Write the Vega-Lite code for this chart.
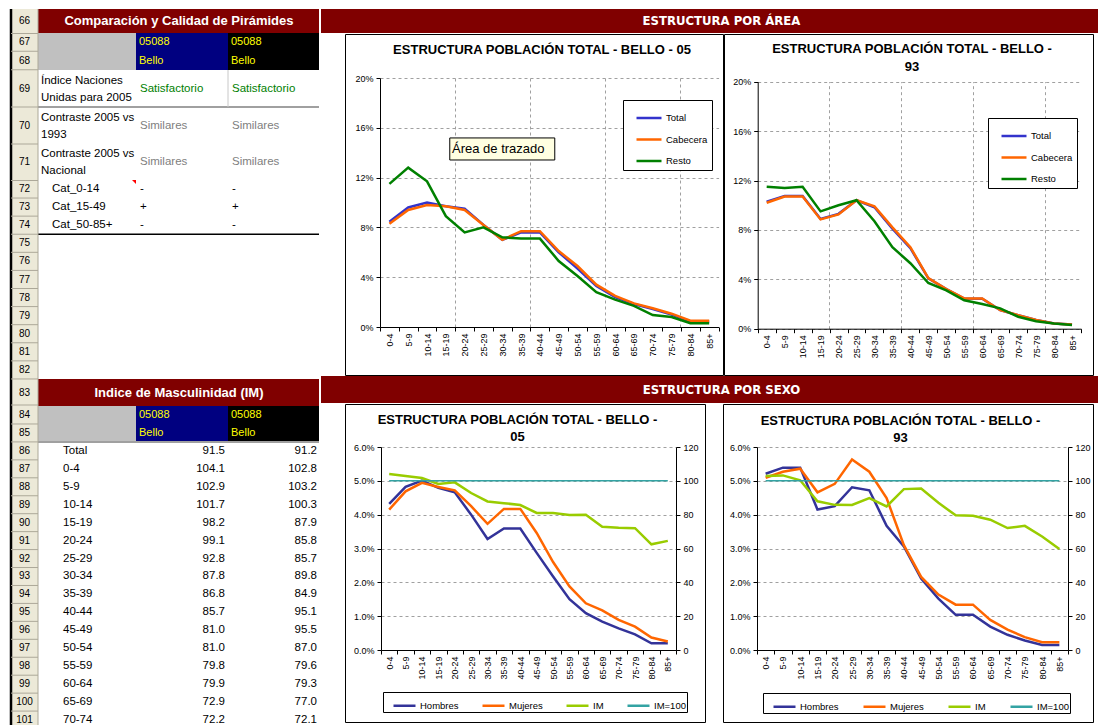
{
"$schema":"https://vega.github.io/schema/vega-lite/v6.json",
"padding":{"left":0,"right":0,"top":7,"bottom":0},
"background":"white",
"config":{"view":{"stroke":null},"font":"Liberation Sans",
 "axis":{"labelFont":"Liberation Sans","labelFontSize":9,"labelColor":"black","domainColor":"black","tickColor":"black","tickSize":4,"gridColor":"#A0A0A0","gridDash":[3,3],"labelPadding":2},
 "legend":{"labelFont":"Liberation Sans","labelColor":"black","labelFontSize":9.5},
 "title":{"font":"Liberation Sans","fontSize":13,"fontWeight":"bold","color":"black","anchor":"middle","frame":"group","baseline":"alphabetic"}},
"datasets":{
 "one":[{}],
 "tip":[{"t":"Área de trazado"}],
 "rows":[{"n":66},{"n":67},{"n":68},{"n":69},{"n":70},{"n":71},{"n":72},{"n":73},{"n":74},{"n":75},{"n":76},{"n":77},{"n":78},{"n":79},{"n":80},{"n":81},{"n":82},{"n":83},{"n":84},{"n":85},{"n":86},{"n":87},{"n":88},{"n":89},{"n":90},{"n":91},{"n":92},{"n":93},{"n":94},{"n":95},{"n":96},{"n":97},{"n":98},{"n":99},{"n":100},{"n":101}],
 "sections":[{"n":66,"t":"Comparación y Calidad de Pirámides"},{"n":83,"t":"Indice de Masculinidad (IM)"}],
 "hdr":[{"n":67,"c1":"05088","c2":"05088"},{"n":68,"c1":"Bello","c2":"Bello"},{"n":84,"c1":"05088","c2":"05088"},{"n":85,"c1":"Bello","c2":"Bello"}],
 "tbl1":[{"n":69,"label":"Índice Naciones\nUnidas para 2005","c1":"Satisfactorio","c2":"Satisfactorio"},{"n":70,"label":"Contraste 2005 vs\n1993","c1":"Similares","c2":"Similares"},{"n":71,"label":"Contraste 2005 vs\nNacional","c1":"Similares","c2":"Similares"},{"n":72,"label":"Cat_0-14","c1":"-","c2":"-"},{"n":73,"label":"Cat_15-49","c1":"+","c2":"+"},{"n":74,"label":"Cat_50-85+","c1":"-","c2":"-"}],
 "masc":[{"n":86,"label":"Total","c1":91.5,"c2":91.2},{"n":87,"label":"0-4","c1":104.1,"c2":102.8},{"n":88,"label":"5-9","c1":102.9,"c2":103.2},{"n":89,"label":"10-14","c1":101.7,"c2":100.3},{"n":90,"label":"15-19","c1":98.2,"c2":87.9},{"n":91,"label":"20-24","c1":99.1,"c2":85.8},{"n":92,"label":"25-29","c1":92.8,"c2":85.7},{"n":93,"label":"30-34","c1":87.8,"c2":89.8},{"n":94,"label":"35-39","c1":86.8,"c2":84.9},{"n":95,"label":"40-44","c1":85.7,"c2":95.1},{"n":96,"label":"45-49","c1":81.0,"c2":95.5},{"n":97,"label":"50-54","c1":81.0,"c2":87.0},{"n":98,"label":"55-59","c1":79.8,"c2":79.6},{"n":99,"label":"60-64","c1":79.9,"c2":79.3},{"n":100,"label":"65-69","c1":72.9,"c2":77.0},{"n":101,"label":"70-74","c1":72.2,"c2":72.1}],
 "area05":[
{"g":"0-4","s":"Total","v":0.0845},{"g":"5-9","s":"Total","v":0.096},{"g":"10-14","s":"Total","v":0.1},{"g":"15-19","s":"Total","v":0.097},{"g":"20-24","s":"Total","v":0.095},{"g":"25-29","s":"Total","v":0.082},{"g":"30-34","s":"Total","v":0.07},{"g":"35-39","s":"Total","v":0.076},{"g":"40-44","s":"Total","v":0.076},{"g":"45-49","s":"Total","v":0.06},{"g":"50-54","s":"Total","v":0.047},{"g":"55-59","s":"Total","v":0.033},{"g":"60-64","s":"Total","v":0.024},{"g":"65-69","s":"Total","v":0.0185},{"g":"70-74","s":"Total","v":0.0145},{"g":"75-79","s":"Total","v":0.01},{"g":"80-84","s":"Total","v":0.0045},{"g":"85+","s":"Total","v":0.0045},
{"g":"0-4","s":"Cabecera","v":0.083},{"g":"5-9","s":"Cabecera","v":0.094},{"g":"10-14","s":"Cabecera","v":0.098},{"g":"15-19","s":"Cabecera","v":0.097},{"g":"20-24","s":"Cabecera","v":0.094},{"g":"25-29","s":"Cabecera","v":0.082},{"g":"30-34","s":"Cabecera","v":0.07},{"g":"35-39","s":"Cabecera","v":0.077},{"g":"40-44","s":"Cabecera","v":0.077},{"g":"45-49","s":"Cabecera","v":0.061},{"g":"50-54","s":"Cabecera","v":0.049},{"g":"55-59","s":"Cabecera","v":0.034},{"g":"60-64","s":"Cabecera","v":0.025},{"g":"65-69","s":"Cabecera","v":0.019},{"g":"70-74","s":"Cabecera","v":0.015},{"g":"75-79","s":"Cabecera","v":0.0107},{"g":"80-84","s":"Cabecera","v":0.005},{"g":"85+","s":"Cabecera","v":0.005},
{"g":"0-4","s":"Resto","v":0.115},{"g":"5-9","s":"Resto","v":0.128},{"g":"10-14","s":"Resto","v":0.117},{"g":"15-19","s":"Resto","v":0.089},{"g":"20-24","s":"Resto","v":0.076},{"g":"25-29","s":"Resto","v":0.08},{"g":"30-34","s":"Resto","v":0.072},{"g":"35-39","s":"Resto","v":0.071},{"g":"40-44","s":"Resto","v":0.071},{"g":"45-49","s":"Resto","v":0.053},{"g":"50-54","s":"Resto","v":0.041},{"g":"55-59","s":"Resto","v":0.028},{"g":"60-64","s":"Resto","v":0.022},{"g":"65-69","s":"Resto","v":0.017},{"g":"70-74","s":"Resto","v":0.0096},{"g":"75-79","s":"Resto","v":0.008},{"g":"80-84","s":"Resto","v":0.003},{"g":"85+","s":"Resto","v":0.003}],
 "area93":[
{"g":"0-4","s":"Total","v":0.1028},{"g":"5-9","s":"Total","v":0.1074},{"g":"10-14","s":"Total","v":0.1075},{"g":"15-19","s":"Total","v":0.0889},{"g":"20-24","s":"Total","v":0.093},{"g":"25-29","s":"Total","v":0.104},{"g":"30-34","s":"Total","v":0.0983},{"g":"35-39","s":"Total","v":0.081},{"g":"40-44","s":"Total","v":0.0652},{"g":"45-49","s":"Total","v":0.0408},{"g":"50-54","s":"Total","v":0.032},{"g":"55-59","s":"Total","v":0.0244},{"g":"60-64","s":"Total","v":0.0242},{"g":"65-69","s":"Total","v":0.0151},{"g":"70-74","s":"Total","v":0.0109},{"g":"75-79","s":"Total","v":0.007},{"g":"80-84","s":"Total","v":0.0043},{"g":"85+","s":"Total","v":0.0035},
{"g":"0-4","s":"Cabecera","v":0.102},{"g":"5-9","s":"Cabecera","v":0.107},{"g":"10-14","s":"Cabecera","v":0.107},{"g":"15-19","s":"Cabecera","v":0.0885},{"g":"20-24","s":"Cabecera","v":0.0925},{"g":"25-29","s":"Cabecera","v":0.104},{"g":"30-34","s":"Cabecera","v":0.099},{"g":"35-39","s":"Cabecera","v":0.082},{"g":"40-44","s":"Cabecera","v":0.066},{"g":"45-49","s":"Cabecera","v":0.041},{"g":"50-54","s":"Cabecera","v":0.032},{"g":"55-59","s":"Cabecera","v":0.0245},{"g":"60-64","s":"Cabecera","v":0.0245},{"g":"65-69","s":"Cabecera","v":0.015},{"g":"70-74","s":"Cabecera","v":0.011},{"g":"75-79","s":"Cabecera","v":0.007},{"g":"80-84","s":"Cabecera","v":0.0043},{"g":"85+","s":"Cabecera","v":0.0035},
{"g":"0-4","s":"Resto","v":0.115},{"g":"5-9","s":"Resto","v":0.114},{"g":"10-14","s":"Resto","v":0.115},{"g":"15-19","s":"Resto","v":0.095},{"g":"20-24","s":"Resto","v":0.1},{"g":"25-29","s":"Resto","v":0.104},{"g":"30-34","s":"Resto","v":0.087},{"g":"35-39","s":"Resto","v":0.066},{"g":"40-44","s":"Resto","v":0.053},{"g":"45-49","s":"Resto","v":0.037},{"g":"50-54","s":"Resto","v":0.031},{"g":"55-59","s":"Resto","v":0.023},{"g":"60-64","s":"Resto","v":0.02},{"g":"65-69","s":"Resto","v":0.0165},{"g":"70-74","s":"Resto","v":0.0097},{"g":"75-79","s":"Resto","v":0.006},{"g":"80-84","s":"Resto","v":0.0043},{"g":"85+","s":"Resto","v":0.003}],
 "sex05":[
{"g":"0-4","s":"Hombres","v":0.0432},{"g":"5-9","s":"Hombres","v":0.0482},{"g":"10-14","s":"Hombres","v":0.0501},{"g":"15-19","s":"Hombres","v":0.0479},{"g":"20-24","s":"Hombres","v":0.0466},{"g":"25-29","s":"Hombres","v":0.04},{"g":"30-34","s":"Hombres","v":0.0328},{"g":"35-39","s":"Hombres","v":0.0359},{"g":"40-44","s":"Hombres","v":0.0359},{"g":"45-49","s":"Hombres","v":0.0287},{"g":"50-54","s":"Hombres","v":0.0217},{"g":"55-59","s":"Hombres","v":0.015},{"g":"60-64","s":"Hombres","v":0.0109},{"g":"65-69","s":"Hombres","v":0.0084},{"g":"70-74","s":"Hombres","v":0.0064},{"g":"75-79","s":"Hombres","v":0.0046},{"g":"80-84","s":"Hombres","v":0.002},{"g":"85+","s":"Hombres","v":0.002},
{"g":"0-4","s":"Mujeres","v":0.0415},{"g":"5-9","s":"Mujeres","v":0.0469},{"g":"10-14","s":"Mujeres","v":0.0494},{"g":"15-19","s":"Mujeres","v":0.0482},{"g":"20-24","s":"Mujeres","v":0.0472},{"g":"25-29","s":"Mujeres","v":0.0425},{"g":"30-34","s":"Mujeres","v":0.0373},{"g":"35-39","s":"Mujeres","v":0.0417},{"g":"40-44","s":"Mujeres","v":0.0417},{"g":"45-49","s":"Mujeres","v":0.0346},{"g":"50-54","s":"Mujeres","v":0.026},{"g":"55-59","s":"Mujeres","v":0.0188},{"g":"60-64","s":"Mujeres","v":0.0138},{"g":"65-69","s":"Mujeres","v":0.0117},{"g":"70-74","s":"Mujeres","v":0.0089},{"g":"75-79","s":"Mujeres","v":0.0069},{"g":"80-84","s":"Mujeres","v":0.0037},{"g":"85+","s":"Mujeres","v":0.0025}],
 "im05":[
{"g":"0-4","s":"IM","v":104.1},{"g":"5-9","s":"IM","v":102.9},{"g":"10-14","s":"IM","v":101.7},{"g":"15-19","s":"IM","v":98.2},{"g":"20-24","s":"IM","v":99.1},{"g":"25-29","s":"IM","v":92.8},{"g":"30-34","s":"IM","v":87.8},{"g":"35-39","s":"IM","v":86.8},{"g":"40-44","s":"IM","v":85.7},{"g":"45-49","s":"IM","v":81.0},{"g":"50-54","s":"IM","v":81.0},{"g":"55-59","s":"IM","v":79.8},{"g":"60-64","s":"IM","v":79.9},{"g":"65-69","s":"IM","v":72.9},{"g":"70-74","s":"IM","v":72.2},{"g":"75-79","s":"IM","v":72.0},{"g":"80-84","s":"IM","v":62.5},{"g":"85+","s":"IM","v":64.5},
{"g":"0-4","s":"IM=100","v":100},{"g":"5-9","s":"IM=100","v":100},{"g":"10-14","s":"IM=100","v":100},{"g":"15-19","s":"IM=100","v":100},{"g":"20-24","s":"IM=100","v":100},{"g":"25-29","s":"IM=100","v":100},{"g":"30-34","s":"IM=100","v":100},{"g":"35-39","s":"IM=100","v":100},{"g":"40-44","s":"IM=100","v":100},{"g":"45-49","s":"IM=100","v":100},{"g":"50-54","s":"IM=100","v":100},{"g":"55-59","s":"IM=100","v":100},{"g":"60-64","s":"IM=100","v":100},{"g":"65-69","s":"IM=100","v":100},{"g":"70-74","s":"IM=100","v":100},{"g":"75-79","s":"IM=100","v":100},{"g":"80-84","s":"IM=100","v":100},{"g":"85+","s":"IM=100","v":100}],
 "sex93":[
{"g":"0-4","s":"Hombres","v":0.0521},{"g":"5-9","s":"Hombres","v":0.0539},{"g":"10-14","s":"Hombres","v":0.0539},{"g":"15-19","s":"Hombres","v":0.0415},{"g":"20-24","s":"Hombres","v":0.0425},{"g":"25-29","s":"Hombres","v":0.0481},{"g":"30-34","s":"Hombres","v":0.0472},{"g":"35-39","s":"Hombres","v":0.0367},{"g":"40-44","s":"Hombres","v":0.0306},{"g":"45-49","s":"Hombres","v":0.0211},{"g":"50-54","s":"Hombres","v":0.0152},{"g":"55-59","s":"Hombres","v":0.0104},{"g":"60-64","s":"Hombres","v":0.0104},{"g":"65-69","s":"Hombres","v":0.0069},{"g":"70-74","s":"Hombres","v":0.0045},{"g":"75-79","s":"Hombres","v":0.0028},{"g":"80-84","s":"Hombres","v":0.0015},{"g":"85+","s":"Hombres","v":0.0015},
{"g":"0-4","s":"Mujeres","v":0.0509},{"g":"5-9","s":"Mujeres","v":0.0527},{"g":"10-14","s":"Mujeres","v":0.0536},{"g":"15-19","s":"Mujeres","v":0.0466},{"g":"20-24","s":"Mujeres","v":0.0491},{"g":"25-29","s":"Mujeres","v":0.0563},{"g":"30-34","s":"Mujeres","v":0.0527},{"g":"35-39","s":"Mujeres","v":0.0449},{"g":"40-44","s":"Mujeres","v":0.031},{"g":"45-49","s":"Mujeres","v":0.0216},{"g":"50-54","s":"Mujeres","v":0.0164},{"g":"55-59","s":"Mujeres","v":0.0134},{"g":"60-64","s":"Mujeres","v":0.0134},{"g":"65-69","s":"Mujeres","v":0.0089},{"g":"70-74","s":"Mujeres","v":0.006},{"g":"75-79","s":"Mujeres","v":0.0038},{"g":"80-84","s":"Mujeres","v":0.0023},{"g":"85+","s":"Mujeres","v":0.0023}],
 "im93":[
{"g":"0-4","s":"IM","v":102.8},{"g":"5-9","s":"IM","v":103.2},{"g":"10-14","s":"IM","v":100.3},{"g":"15-19","s":"IM","v":87.9},{"g":"20-24","s":"IM","v":85.8},{"g":"25-29","s":"IM","v":85.7},{"g":"30-34","s":"IM","v":89.8},{"g":"35-39","s":"IM","v":84.9},{"g":"40-44","s":"IM","v":95.1},{"g":"45-49","s":"IM","v":95.5},{"g":"50-54","s":"IM","v":87.0},{"g":"55-59","s":"IM","v":79.6},{"g":"60-64","s":"IM","v":79.3},{"g":"65-69","s":"IM","v":77.0},{"g":"70-74","s":"IM","v":72.1},{"g":"75-79","s":"IM","v":73.4},{"g":"80-84","s":"IM","v":67.1},{"g":"85+","s":"IM","v":59.7},
{"g":"0-4","s":"IM=100","v":100},{"g":"5-9","s":"IM=100","v":100},{"g":"10-14","s":"IM=100","v":100},{"g":"15-19","s":"IM=100","v":100},{"g":"20-24","s":"IM=100","v":100},{"g":"25-29","s":"IM=100","v":100},{"g":"30-34","s":"IM=100","v":100},{"g":"35-39","s":"IM=100","v":100},{"g":"40-44","s":"IM=100","v":100},{"g":"45-49","s":"IM=100","v":100},{"g":"50-54","s":"IM=100","v":100},{"g":"55-59","s":"IM=100","v":100},{"g":"60-64","s":"IM=100","v":100},{"g":"65-69","s":"IM=100","v":100},{"g":"70-74","s":"IM=100","v":100},{"g":"75-79","s":"IM=100","v":100},{"g":"80-84","s":"IM=100","v":100},{"g":"85+","s":"IM=100","v":100}]
},
"spacing":1,
"bounds":"flush",
"resolve":{"scale":{"color":"independent"},"legend":{"color":"independent"}},
"hconcat":[
{"width":320,"height":716,
 "layer":[
  {"data":{"name":"one"},"mark":{"type":"rect","fill":"#ECE9D8"},"encoding":{"x":{"datum":0,"type":"quantitative","scale":{"type":"linear","domain":[0,1,2,3,4],"range":[11,38,136,228,319],"nice":false,"zero":false},"axis":null},"x2":{"datum":1},"y":{"datum":65.5,"type":"quantitative","scale":{"type":"linear","domain":[65.5,66.5,68.5,69.5,70.5,71.5,82.5,83.5,101.5],"range":[0,24,61,98,135,171,370,397,720],"nice":false,"zero":false},"axis":null},"y2":{"datum":101.5}}},
  {"data":{"name":"one"},"mark":{"type":"rect","fill":"#800000"},"encoding":{"x":{"datum":1,"axis":null},"x2":{"datum":4},"y":{"datum":65.5,"axis":null},"y2":{"datum":66.5}}},
  {"data":{"name":"one"},"mark":{"type":"rect","fill":"#800000"},"encoding":{"x":{"datum":1,"axis":null},"x2":{"datum":4},"y":{"datum":82.5,"axis":null},"y2":{"datum":83.5}}},
  {"data":{"name":"one"},"mark":{"type":"rect","fill":"#C0C0C0"},"encoding":{"x":{"datum":1,"axis":null},"x2":{"datum":2},"y":{"datum":66.5,"axis":null},"y2":{"datum":68.5}}},
  {"data":{"name":"one"},"mark":{"type":"rect","fill":"#000080"},"encoding":{"x":{"datum":2,"axis":null},"x2":{"datum":3},"y":{"datum":66.5,"axis":null},"y2":{"datum":68.5}}},
  {"data":{"name":"one"},"mark":{"type":"rect","fill":"#000000"},"encoding":{"x":{"datum":3,"axis":null},"x2":{"datum":4},"y":{"datum":66.5,"axis":null},"y2":{"datum":68.5}}},
  {"data":{"name":"one"},"mark":{"type":"rect","fill":"#C0C0C0"},"encoding":{"x":{"datum":1,"axis":null},"x2":{"datum":2},"y":{"datum":83.5,"axis":null},"y2":{"datum":85.5}}},
  {"data":{"name":"one"},"mark":{"type":"rect","fill":"#000080"},"encoding":{"x":{"datum":2,"axis":null},"x2":{"datum":3},"y":{"datum":83.5,"axis":null},"y2":{"datum":85.5}}},
  {"data":{"name":"one"},"mark":{"type":"rect","fill":"#000000"},"encoding":{"x":{"datum":3,"axis":null},"x2":{"datum":4},"y":{"datum":83.5,"axis":null},"y2":{"datum":85.5}}},
  {"data":{"name":"one"},"mark":{"type":"rule","stroke":"#A0A0A0","strokeWidth":2},"encoding":{"x":{"datum":1,"axis":null},"x2":{"datum":4},"y":{"datum":69.5,"axis":null}}},
  {"data":{"name":"one"},"mark":{"type":"rule","stroke":"#C8C8C8","strokeWidth":1},"encoding":{"x":{"datum":3,"axis":null},"y":{"datum":68.5,"axis":null},"y2":{"datum":69.5}}},
  {"data":{"name":"one"},"mark":{"type":"rule","stroke":"#000000","strokeWidth":1.5},"encoding":{"x":{"datum":1,"axis":null},"x2":{"datum":4},"y":{"datum":74.5,"axis":null}}},
  {"data":{"name":"one"},"mark":{"type":"rule","stroke":"#A0A0A0","strokeWidth":2},"encoding":{"x":{"datum":1,"axis":null},"x2":{"datum":4},"y":{"datum":85.5,"axis":null}}},
  {"data":{"name":"one"},"mark":{"type":"rule","stroke":"#000000","strokeWidth":2.5},"encoding":{"x":{"datum":0,"axis":null},"y":{"datum":65.5,"axis":null},"y2":{"datum":101.5}}},
  {"data":{"name":"one"},"mark":{"type":"rule","stroke":"#ACA899","strokeWidth":1},"encoding":{"x":{"datum":1,"axis":null},"y":{"datum":65.5,"axis":null},"y2":{"datum":101.5}}},
  {"data":{"name":"rows"},"transform":[{"filter":"datum.n != 66 && datum.n != 83 && (datum.n < 69 || datum.n > 71)"}],"mark":{"type":"rule","stroke":"#ACA899","strokeWidth":1,"yOffset":9},"encoding":{"x":{"datum":0,"axis":null},"x2":{"datum":1},"y":{"field":"n","type":"quantitative","axis":null}}},
  {"data":{"name":"rows"},"transform":[{"filter":"datum.n >= 69 && datum.n <= 71"}],"mark":{"type":"rule","stroke":"#ACA899","strokeWidth":1,"yOffset":18.5},"encoding":{"x":{"datum":0,"axis":null},"x2":{"datum":1},"y":{"field":"n","type":"quantitative","axis":null}}},
  {"data":{"name":"rows"},"transform":[{"filter":"datum.n == 66 || datum.n == 83"}],"mark":{"type":"rule","stroke":"#ACA899","strokeWidth":1,"yOffset":12.5},"encoding":{"x":{"datum":0,"axis":null},"x2":{"datum":1},"y":{"field":"n","type":"quantitative","axis":null}}},
  {"data":{"name":"one"},"mark":{"type":"point","shape":"M-2,0H0V2Z","size":16,"filled":true,"color":"#FF0000","strokeWidth":0,"opacity":1},"encoding":{"x":{"datum":2,"axis":null},"y":{"datum":71.5,"axis":null}}},
  {"data":{"name":"rows"},"mark":{"type":"text","fontSize":10,"align":"center","baseline":"middle","color":"black"},"encoding":{"x":{"datum":0.5,"axis":null},"y":{"field":"n","type":"quantitative","axis":null},"text":{"field":"n","type":"nominal"}}},
  {"data":{"name":"sections"},"mark":{"type":"text","fontSize":13,"fontWeight":"bold","color":"white","align":"center","baseline":"middle","dx":-3},"encoding":{"x":{"datum":2.5,"axis":null},"y":{"field":"n","type":"quantitative","axis":null},"text":{"field":"t","type":"nominal"}}},
  {"data":{"name":"hdr"},"mark":{"type":"text","fontSize":11,"color":"#FFFF00","align":"left","baseline":"middle","dx":3},"encoding":{"x":{"datum":2,"axis":null},"y":{"field":"n","type":"quantitative","axis":null},"text":{"field":"c1","type":"nominal"}}},
  {"data":{"name":"hdr"},"mark":{"type":"text","fontSize":11,"color":"#FFFF00","align":"left","baseline":"middle","dx":3},"encoding":{"x":{"datum":3,"axis":null},"y":{"field":"n","type":"quantitative","axis":null},"text":{"field":"c2","type":"nominal"}}},
  {"data":{"name":"tbl1"},"transform":[{"filter":"datum.n <= 71"}],"mark":{"type":"text","fontSize":11.5,"align":"left","baseline":"middle","dx":3,"dy":-8,"lineBreak":"\n","lineHeight":17,"color":"black"},"encoding":{"x":{"datum":1,"axis":null},"y":{"field":"n","type":"quantitative","axis":null},"text":{"field":"label","type":"nominal"}}},
  {"data":{"name":"tbl1"},"transform":[{"filter":"datum.n > 71"}],"mark":{"type":"text","fontSize":11.5,"align":"left","baseline":"middle","dx":14,"color":"black"},"encoding":{"x":{"datum":1,"axis":null},"y":{"field":"n","type":"quantitative","axis":null},"text":{"field":"label","type":"nominal"}}},
  {"data":{"name":"tbl1"},"mark":{"type":"text","fontSize":11.5,"align":"left","baseline":"middle","dx":4},"encoding":{"x":{"datum":2,"axis":null},"y":{"field":"n","type":"quantitative","axis":null},"text":{"field":"c1","type":"nominal"},"color":{"field":"c1","type":"nominal","scale":{"domain":["Satisfactorio","Similares","-","+"],"range":["#008000","#808080","#000000","#000000"]},"legend":null}}},
  {"data":{"name":"tbl1"},"mark":{"type":"text","fontSize":11.5,"align":"left","baseline":"middle","dx":4},"encoding":{"x":{"datum":3,"axis":null},"y":{"field":"n","type":"quantitative","axis":null},"text":{"field":"c2","type":"nominal"},"color":{"field":"c2","type":"nominal","legend":null}}},
  {"data":{"name":"masc"},"mark":{"type":"text","fontSize":11.5,"align":"left","baseline":"middle","dx":25,"color":"black"},"encoding":{"x":{"datum":1,"axis":null},"y":{"field":"n","type":"quantitative","axis":null},"text":{"field":"label","type":"nominal"}}},
  {"data":{"name":"masc"},"mark":{"type":"text","fontSize":11.5,"align":"right","baseline":"middle","dx":-3,"color":"black"},"encoding":{"x":{"datum":3,"axis":null},"y":{"field":"n","type":"quantitative","axis":null},"text":{"field":"c1","type":"quantitative","format":".1f"}}},
  {"data":{"name":"masc"},"mark":{"type":"text","fontSize":11.5,"align":"right","baseline":"middle","dx":-2,"color":"black"},"encoding":{"x":{"datum":4,"axis":null},"y":{"field":"n","type":"quantitative","axis":null},"text":{"field":"c2","type":"quantitative","format":".1f"}}}
 ]},
{"spacing":0,
 "resolve":{"scale":{"color":"independent"},"legend":{"color":"independent"}},
 "vconcat":[
  {"width":777,"height":24,"view":{"fill":"#800000","stroke":null},"data":{"values":[{"t":"ESTRUCTURA POR ÁREA"}]},"mark":{"type":"text","color":"white","font":"DejaVu Sans Condensed, Liberation Sans","fontSize":13,"fontWeight":"bold","align":"center","baseline":"middle","dx":12},"encoding":{"text":{"field":"t","type":"nominal"}}},
  {"spacing":1,"bounds":"flush",
   "resolve":{"scale":{"color":"independent"},"legend":{"color":"independent"}},
   "hconcat":[
    {"width":23,"height":341,"data":{"name":"one"},"mark":{"type":"point","opacity":0}},
    {"width":378,"height":341,"view":{"stroke":"black","strokeWidth":1},
     "title":{"text":"ESTRUCTURA POBLACIÓN TOTAL - BELLO - 05","offset":-23,"dx":8},
     "layer":[
      {"data":{"name":"area05"},"mark":{"type":"line","strokeWidth":2.5},
       "encoding":{
        "x":{"field":"g","type":"ordinal","scale":{"type":"band","domain":["0-4","5-9","10-14","15-19","20-24","25-29","30-34","35-39","40-44","45-49","50-54","55-59","60-64","65-69","70-74","75-79","80-84","85+"],"range":[35,373.6],"paddingInner":0,"paddingOuter":0},"axis":{"orient":"bottom","offset":-48,"tickBand":"extent","labelAngle":270,"labelOverlap":false,"grid":false,"title":null}},
        "y":{"field":"v","type":"quantitative","scale":{"domain":[0,0.2],"range":[293,44],"nice":false},"axis":{"orient":"left","offset":-35,"values":[0,0.04,0.08,0.12,0.16,0.2],"format":".0%","grid":true,"title":null,"labelPadding":3}},
        "color":{"field":"s","type":"nominal","scale":{"domain":["Total","Cabecera","Resto"],"range":["#3333CC","#FF6600","#008000"]},"legend":{"orient":"none","legendX":278,"legendY":66,"direction":"vertical","title":null,"strokeColor":"black","fillColor":"white","padding":4,"symbolType":"stroke","symbolSize":625,"symbolStrokeWidth":2.5,"symbolOffset":8,"rowPadding":2.5,"labelOffset":3}},
        "order":{"value":null}}},
      {"data":{"name":"area05"},"mark":{"type":"point","opacity":0},
       "encoding":{"x":{"field":"g","type":"ordinal","axis":{"orient":"top","grid":true,"labels":false,"ticks":false,"domain":false,"values":["20-24","40-44","60-64","80-84"],"bandPosition":0,"title":null,"maxExtent":0,"minExtent":0}},"y":{"field":"v","type":"quantitative"}}},
      {"data":{"name":"tip"},"mark":{"type":"point","shape":"M-1,-0.21H1V0.21H-1Z","size":11025,"filled":true,"fill":"#FFFFE1","stroke":"black","strokeWidth":1,"opacity":1},
       "encoding":{"x":{"datum":"30-34","type":"ordinal","axis":null},"y":{"datum":0.143,"type":"quantitative"}}},
      {"data":{"name":"tip"},"mark":{"type":"text","fontSize":13,"color":"black","align":"center","baseline":"middle","dx":-4},
       "encoding":{"x":{"datum":"30-34","type":"ordinal","axis":null},"y":{"datum":0.143,"type":"quantitative"},"text":{"field":"t","type":"nominal"}}}
     ],
     "resolve":{"axis":{"x":"independent"}}},
    {"width":369,"height":341,"view":{"stroke":"black","strokeWidth":1},
     "title":{"text":["ESTRUCTURA POBLACIÓN TOTAL - BELLO -","93"],"offset":-40,"dx":3.5,"lineHeight":18},
     "layer":[
      {"data":{"name":"area93"},"mark":{"type":"line","strokeWidth":2.5},
       "encoding":{
        "x":{"field":"g","type":"ordinal","scale":{"type":"band","domain":["0-4","5-9","10-14","15-19","20-24","25-29","30-34","35-39","40-44","45-49","50-54","55-59","60-64","65-69","70-74","75-79","80-84","85+"],"range":[33.7,357],"paddingInner":0,"paddingOuter":0},"axis":{"orient":"bottom","offset":-46.3,"tickBand":"extent","labelAngle":270,"labelOverlap":false,"grid":false,"title":null}},
        "y":{"field":"v","type":"quantitative","scale":{"domain":[0,0.2],"range":[294.7,47.7],"nice":false},"axis":{"orient":"left","offset":-33.7,"values":[0,0.04,0.08,0.12,0.16,0.2],"format":".0%","grid":true,"title":null,"labelPadding":3}},
        "color":{"field":"s","type":"nominal","scale":{"domain":["Total","Cabecera","Resto"],"range":["#3333CC","#FF6600","#008000"]},"legend":{"orient":"none","legendX":264,"legendY":84,"direction":"vertical","title":null,"strokeColor":"black","fillColor":"white","padding":4,"symbolType":"stroke","symbolSize":625,"symbolStrokeWidth":2.5,"symbolOffset":8,"rowPadding":2.5,"labelOffset":3}},
        "order":{"value":null}}},
      {"data":{"name":"area93"},"mark":{"type":"point","opacity":0},
       "encoding":{"x":{"field":"g","type":"ordinal","axis":{"orient":"top","grid":true,"labels":false,"ticks":false,"domain":false,"values":["20-24","40-44","60-64","80-84"],"bandPosition":0,"title":null,"maxExtent":0,"minExtent":0}},"y":{"field":"v","type":"quantitative"}}}
     ],
     "resolve":{"axis":{"x":"independent"}}}
   ]},
  {"width":777,"height":27,"view":{"fill":"#800000","stroke":null},"data":{"values":[{"t":"ESTRUCTURA POR SEXO"}]},"mark":{"type":"text","color":"white","font":"DejaVu Sans Condensed, Liberation Sans","fontSize":13,"fontWeight":"bold","align":"center","baseline":"middle","dx":12},"encoding":{"text":{"field":"t","type":"nominal"}}},
  {"spacing":18,"bounds":"flush",
   "resolve":{"scale":{"color":"independent"},"legend":{"color":"independent"}},
   "hconcat":[
    {"width":6,"height":318,"data":{"name":"one"},"mark":{"type":"point","opacity":0}},
    {"width":360,"height":318,"view":{"stroke":"black","strokeWidth":1},
     "title":{"text":["ESTRUCTURA POBLACIÓN TOTAL - BELLO -","05"],"offset":-39.5,"dx":-7.5,"lineHeight":17},
     "layer":[
      {"data":{"name":"sex05"},"mark":{"type":"line","strokeWidth":2.5},
       "encoding":{
        "x":{"field":"g","type":"ordinal","scale":{"type":"band","domain":["0-4","5-9","10-14","15-19","20-24","25-29","30-34","35-39","40-44","45-49","50-54","55-59","60-64","65-69","70-74","75-79","80-84","85+"],"range":[36,331],"paddingInner":0,"paddingOuter":0},"axis":{"orient":"bottom","offset":-72,"tickBand":"extent","labelAngle":270,"labelOverlap":false,"grid":false,"title":null}},
        "y":{"field":"v","type":"quantitative","scale":{"domain":[0,0.06],"range":[246,43],"nice":false},"axis":{"orient":"left","offset":-36,"values":[0,0.01,0.02,0.03,0.04,0.05,0.06],"format":".1%","grid":true,"title":null,"labelPadding":3}},
        "color":{"field":"s","type":"nominal","scale":{"domain":["Hombres","Mujeres","IM","IM=100"],"range":["#333399","#FF6600","#99CC00","#33A3A3"]},"legend":{"orient":"none","legendX":38,"legendY":288,"direction":"horizontal","title":null,"strokeColor":"black","fillColor":"white","padding":1,"symbolType":"stroke","symbolSize":484,"symbolStrokeWidth":2.5,"symbolOffset":8,"columnPadding":14,"labelOffset":3}},
        "order":{"value":null}}},
      {"data":{"name":"im05"},"transform":[{"filter":"datum.s == 'IM'"}],"mark":{"type":"line","strokeWidth":2.5},
       "encoding":{"x":{"field":"g","type":"ordinal"},"y":{"field":"v","type":"quantitative","scale":{"domain":[0,120],"range":[246,43],"nice":false},"axis":{"orient":"right","offset":-29,"values":[0,20,40,60,80,100,120],"grid":false,"title":null,"labelPadding":3}},"color":{"field":"s","type":"nominal"},"order":{"value":null}}},
      {"data":{"name":"im05"},"transform":[{"filter":"datum.s == 'IM=100'"}],"mark":{"type":"line","strokeWidth":1.5},
       "encoding":{"x":{"field":"g","type":"ordinal"},"y":{"field":"v","type":"quantitative","scale":{"domain":[0,120],"range":[246,43],"nice":false},"axis":null},"color":{"field":"s","type":"nominal"},"order":{"value":null}}}
     ],
     "resolve":{"scale":{"y":"independent"}}},
    {"width":370,"height":318,"view":{"stroke":"black","strokeWidth":1},
     "title":{"text":["ESTRUCTURA POBLACIÓN TOTAL - BELLO -","93"],"offset":-40.5,"dx":-7.5,"lineHeight":17},
     "layer":[
      {"data":{"name":"sex93"},"mark":{"type":"line","strokeWidth":2.5},
       "encoding":{
        "x":{"field":"g","type":"ordinal","scale":{"type":"band","domain":["0-4","5-9","10-14","15-19","20-24","25-29","30-34","35-39","40-44","45-49","50-54","55-59","60-64","65-69","70-74","75-79","80-84","85+"],"range":[34,345],"paddingInner":0,"paddingOuter":0},"axis":{"orient":"bottom","offset":-72,"tickBand":"extent","labelAngle":270,"labelOverlap":false,"grid":false,"title":null}},
        "y":{"field":"v","type":"quantitative","scale":{"domain":[0,0.06],"range":[246,43],"nice":false},"axis":{"orient":"left","offset":-34,"values":[0,0.01,0.02,0.03,0.04,0.05,0.06],"format":".1%","grid":true,"title":null,"labelPadding":3}},
        "color":{"field":"s","type":"nominal","scale":{"domain":["Hombres","Mujeres","IM","IM=100"],"range":["#333399","#FF6600","#99CC00","#33A3A3"]},"legend":{"orient":"none","legendX":40,"legendY":289,"direction":"horizontal","title":null,"strokeColor":"black","fillColor":"white","padding":1,"symbolType":"stroke","symbolSize":484,"symbolStrokeWidth":2.5,"symbolOffset":8,"columnPadding":15,"labelOffset":3}},
        "order":{"value":null}}},
      {"data":{"name":"im93"},"transform":[{"filter":"datum.s == 'IM'"}],"mark":{"type":"line","strokeWidth":2.5},
       "encoding":{"x":{"field":"g","type":"ordinal"},"y":{"field":"v","type":"quantitative","scale":{"domain":[0,120],"range":[246,43],"nice":false},"axis":{"orient":"right","offset":-25,"values":[0,20,40,60,80,100,120],"grid":false,"title":null,"labelPadding":3}},"color":{"field":"s","type":"nominal"},"order":{"value":null}}},
      {"data":{"name":"im93"},"transform":[{"filter":"datum.s == 'IM=100'"}],"mark":{"type":"line","strokeWidth":1.5},
       "encoding":{"x":{"field":"g","type":"ordinal"},"y":{"field":"v","type":"quantitative","scale":{"domain":[0,120],"range":[246,43],"nice":false},"axis":null},"color":{"field":"s","type":"nominal"},"order":{"value":null}}}
     ],
     "resolve":{"scale":{"y":"independent"}}}
   ]}
 ]}
]
}
